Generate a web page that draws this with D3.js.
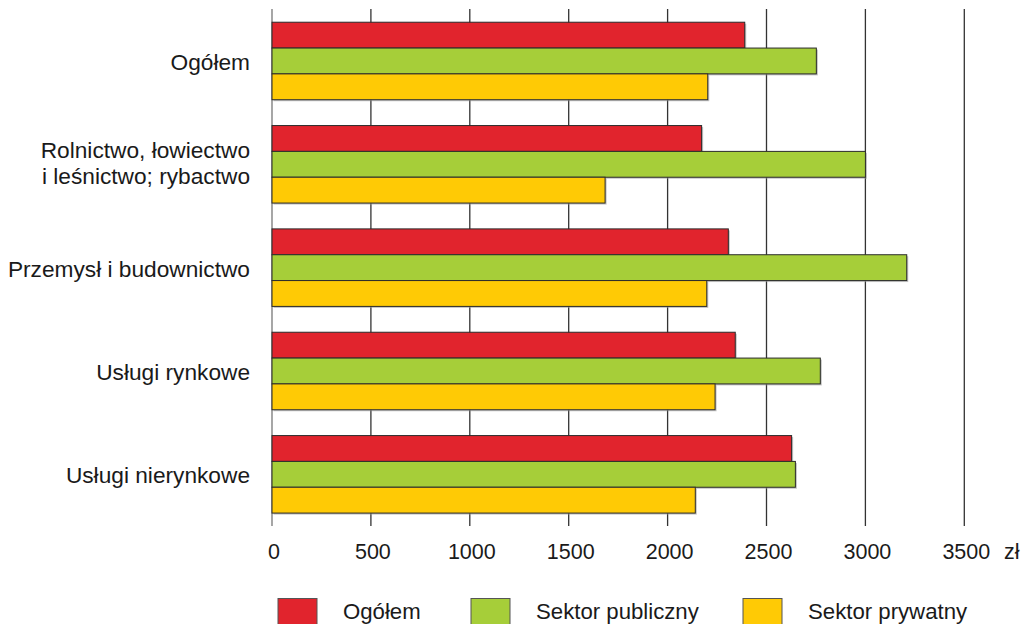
<!DOCTYPE html>
<html><head><meta charset="utf-8">
<script src="https://cdn.jsdelivr.net/npm/d3@7"></script>
<style>
body{margin:0;background:#fff;}
svg{display:block;font-family:"Liberation Sans",Arial,sans-serif;}
</style></head>
<body><svg id="c" width="1027" height="624"></svg>
<script>
const categories = [["Ogółem"], ["Rolnictwo, łowiectwo","i leśnictwo; rybactwo"], ["Przemysł i budownictwo"], ["Usługi rynkowe"], ["Usługi nierynkowe"]];
const seriesNames = ["Ogółem", "Sektor publiczny", "Sektor prywatny"];
const ogolem = [2390, 2172, 2307, 2342, 2627];
const publiczny = [2752, 3000, 3209, 2772, 2646];
const prywatny = [2203, 1684, 2198, 2240, 2140];
const tickValues = [0, 500, 1000, 1500, 2000, 2500, 3000, 3500];
const unit = "zł";
const colors = ["#e1242d", "#a6ce39", "#ffca05"];

const series = [ogolem, publiczny, prywatny];
const svg = d3.select("#c");
const x = d3.scaleLinear().domain([0, 3500]).range([272, 964.3]);
const y = d3.scaleBand().domain(d3.range(categories.length)).range([9.3, 526]).paddingInner(0.25).paddingOuter(0.125);
const ys = d3.scaleBand().domain(d3.range(series.length)).range([0, y.bandwidth()]);

// gridlines
svg.append("g").selectAll("line").data(tickValues).join("line")
  .attr("x1", d => x(d)).attr("x2", d => x(d))
  .attr("y1", 9).attr("y2", 526)
  .attr("stroke", d => d === 0 ? "#777" : "#333").attr("stroke-width", 1.3);

// bars
const g = svg.append("g");
categories.forEach((c, i) => {
  series.forEach((s, j) => {
    g.append("rect")
      .attr("x", x(0) + 1.5).attr("y", y(i) + ys(j) + 1.5)
      .attr("width", x(s[i]) - x(0)).attr("height", ys.bandwidth())
      .attr("fill", "#999").attr("opacity", 0.6);
  });
  series.forEach((s, j) => {
    g.append("rect")
      .attr("x", x(0)).attr("y", y(i) + ys(j))
      .attr("width", x(s[i]) - x(0)).attr("height", ys.bandwidth())
      .attr("fill", colors[j]).attr("stroke", "#2b2b2b").attr("stroke-width", 1);
  });
});

// category labels
categories.forEach((lines, i) => {
  const cy = y(i) + y.bandwidth() / 2;
  const shift = lines.length > 1 ? -2 : 0;
  const t = svg.append("text").attr("text-anchor", "end").attr("font-size", 22.7).attr("fill", "#1a1a1a");
  lines.forEach((l, k) => {
    t.append("tspan").attr("x", 250).attr("y", cy + shift + (k - (lines.length - 1) / 2) * 26).attr("dy", "0.4em").text(l);
  });
});

// tick labels
svg.append("g").selectAll("text").data(tickValues).join("text")
  .attr("x", d => x(d) + 2).attr("y", 551).attr("dy", "0.36em")
  .attr("text-anchor", "middle").attr("font-size", 21.5).attr("fill", "#1a1a1a")
  .text(d => d);
svg.append("text").attr("x", 1004).attr("y", 551).attr("dy", "0.36em")
  .attr("font-size", 21.5).attr("fill", "#1a1a1a").text(unit);

// legend
const legX = [278, 471, 743];
seriesNames.forEach((n, j) => {
  svg.append("rect").attr("x", legX[j]).attr("y", 598.5).attr("width", 39).attr("height", 30)
    .attr("fill", colors[j]).attr("stroke", "#555").attr("stroke-width", 1);
  svg.append("text").attr("x", legX[j] + 65).attr("y", 611).attr("dy", "0.36em")
    .attr("font-size", 22.2).attr("fill", "#1a1a1a").text(n);
});
</script></body></html>
